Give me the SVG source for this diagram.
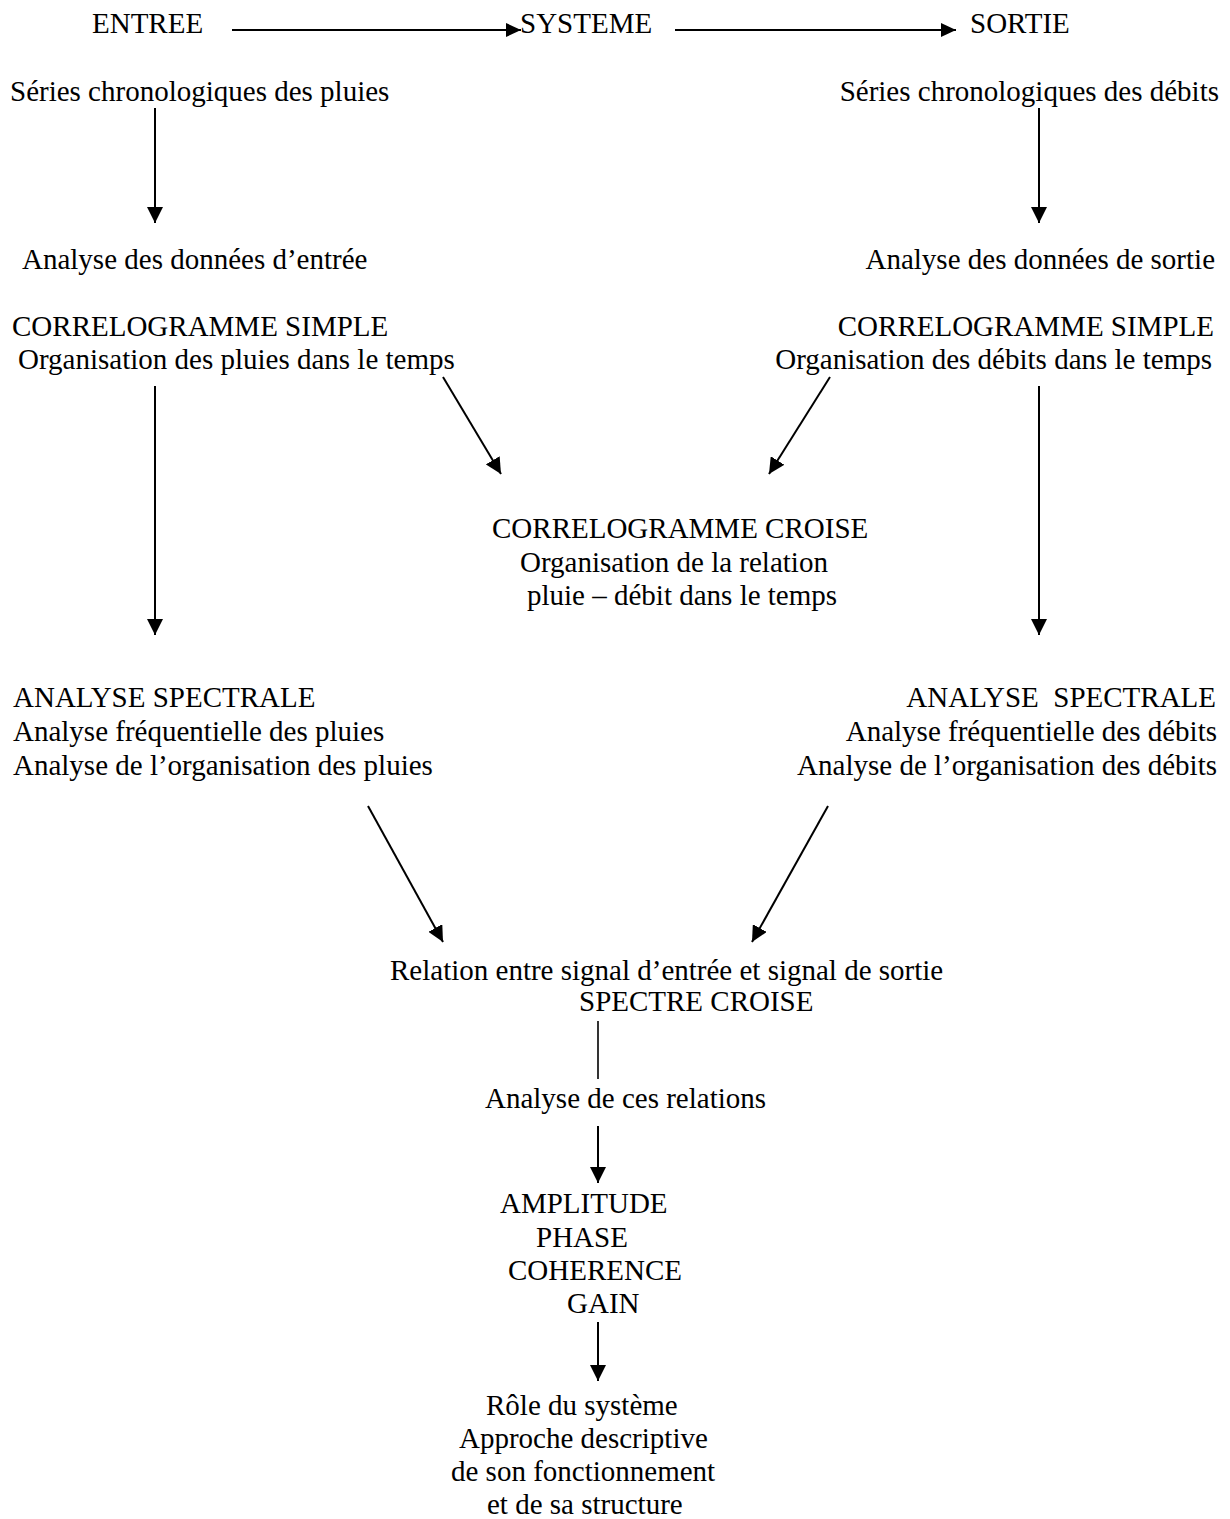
<svg xmlns="http://www.w3.org/2000/svg" width="1230" height="1519" viewBox="0 0 1230 1519">
<style>
text{font-family:"Liberation Serif","Times New Roman",serif;font-size:29px;fill:#000}
.e{text-anchor:end}
.c{stroke:#000;stroke-width:2;fill:none}
.t{stroke:#000;stroke-width:1.6;fill:none}
</style>
<defs>
<marker id="ah" markerUnits="userSpaceOnUse" markerWidth="17" markerHeight="16" refX="16" refY="8" orient="auto">
<path d="M0,0 L16,8 L0,16 z" fill="#000"/>
</marker>
<marker id="ahs" markerUnits="userSpaceOnUse" markerWidth="16" markerHeight="14" refX="15" refY="7" orient="auto">
<path d="M0,0 L15,7 L0,14 z" fill="#000"/>
</marker>
</defs>
<rect width="1230" height="1519" fill="#fff"/>
<g id="connectors">
<line class="c" x1="232" y1="30" x2="521" y2="30" marker-end="url(#ahs)"/>
<line class="c" x1="675" y1="30" x2="956" y2="30" marker-end="url(#ahs)"/>
<line class="c" x1="155" y1="108" x2="155" y2="223" marker-end="url(#ah)"/>
<line class="c" x1="1039" y1="108" x2="1039" y2="223" marker-end="url(#ah)"/>
<line class="c" x1="155" y1="386" x2="155" y2="635" marker-end="url(#ah)"/>
<line class="c" x1="1039" y1="386" x2="1039" y2="635" marker-end="url(#ah)"/>
<line class="c" x1="443" y1="377" x2="501" y2="474" marker-end="url(#ah)"/>
<line class="c" x1="830" y1="377" x2="769" y2="474" marker-end="url(#ah)"/>
<line class="c" x1="368" y1="806" x2="443" y2="942" marker-end="url(#ah)"/>
<line class="c" x1="828" y1="806" x2="752" y2="942" marker-end="url(#ah)"/>
<line class="t" x1="598" y1="1021" x2="598" y2="1079"/>
<line class="c" x1="598" y1="1126" x2="598" y2="1183" marker-end="url(#ah)"/>
<line class="c" x1="598" y1="1322" x2="598" y2="1381" marker-end="url(#ah)"/>
</g>
<g id="entree"><text x="92" y="33">ENTREE</text></g>
<g id="systeme"><text x="520" y="33">SYSTEME</text></g>
<g id="sortie"><text x="970" y="33">SORTIE</text></g>
<g id="series-pluies"><text x="10" y="101">Séries chronologiques des pluies</text></g>
<g id="series-debits"><text class="e" x="1219" y="101">Séries chronologiques des débits</text></g>
<g id="analyse-entree"><text x="22" y="269">Analyse des données d’entrée</text></g>
<g id="analyse-sortie"><text class="e" x="1215" y="269">Analyse des données de sortie</text></g>
<g id="correlo-pluies">
<text x="12" y="336">CORRELOGRAMME SIMPLE</text>
<text x="18" y="369">Organisation des pluies dans le temps</text>
</g>
<g id="correlo-debits">
<text class="e" x="1214" y="336">CORRELOGRAMME SIMPLE</text>
<text class="e" x="1212" y="369">Organisation des débits dans le temps</text>
</g>
<g id="correlo-croise">
<text x="492" y="538">CORRELOGRAMME CROISE</text>
<text x="520" y="572">Organisation de la relation</text>
<text x="527" y="605">pluie – débit dans le temps</text>
</g>
<g id="spectrale-pluies">
<text x="13" y="707">ANALYSE SPECTRALE</text>
<text x="13" y="741">Analyse fréquentielle des pluies</text>
<text x="13" y="775">Analyse de l’organisation des pluies</text>
</g>
<g id="spectrale-debits">
<text class="e" x="1216" y="707" xml:space="preserve">ANALYSE  SPECTRALE</text>
<text class="e" x="1217" y="741">Analyse fréquentielle des débits</text>
<text class="e" x="1217" y="775">Analyse de l’organisation des débits</text>
</g>
<g id="spectre-croise">
<text x="390" y="980">Relation entre signal d’entrée et signal de sortie</text>
<text x="579" y="1011">SPECTRE CROISE</text>
</g>
<g id="analyse-relations"><text x="485" y="1108">Analyse de ces relations</text></g>
<g id="parametres">
<text x="500" y="1213">AMPLITUDE</text>
<text x="536" y="1247">PHASE</text>
<text x="508" y="1280">COHERENCE</text>
<text x="567" y="1313">GAIN</text>
</g>
<g id="role">
<text x="486" y="1415">Rôle du système</text>
<text x="459" y="1448">Approche descriptive</text>
<text x="451" y="1481">de son fonctionnement</text>
<text x="487" y="1514">et de sa structure</text>
</g>
</svg>
